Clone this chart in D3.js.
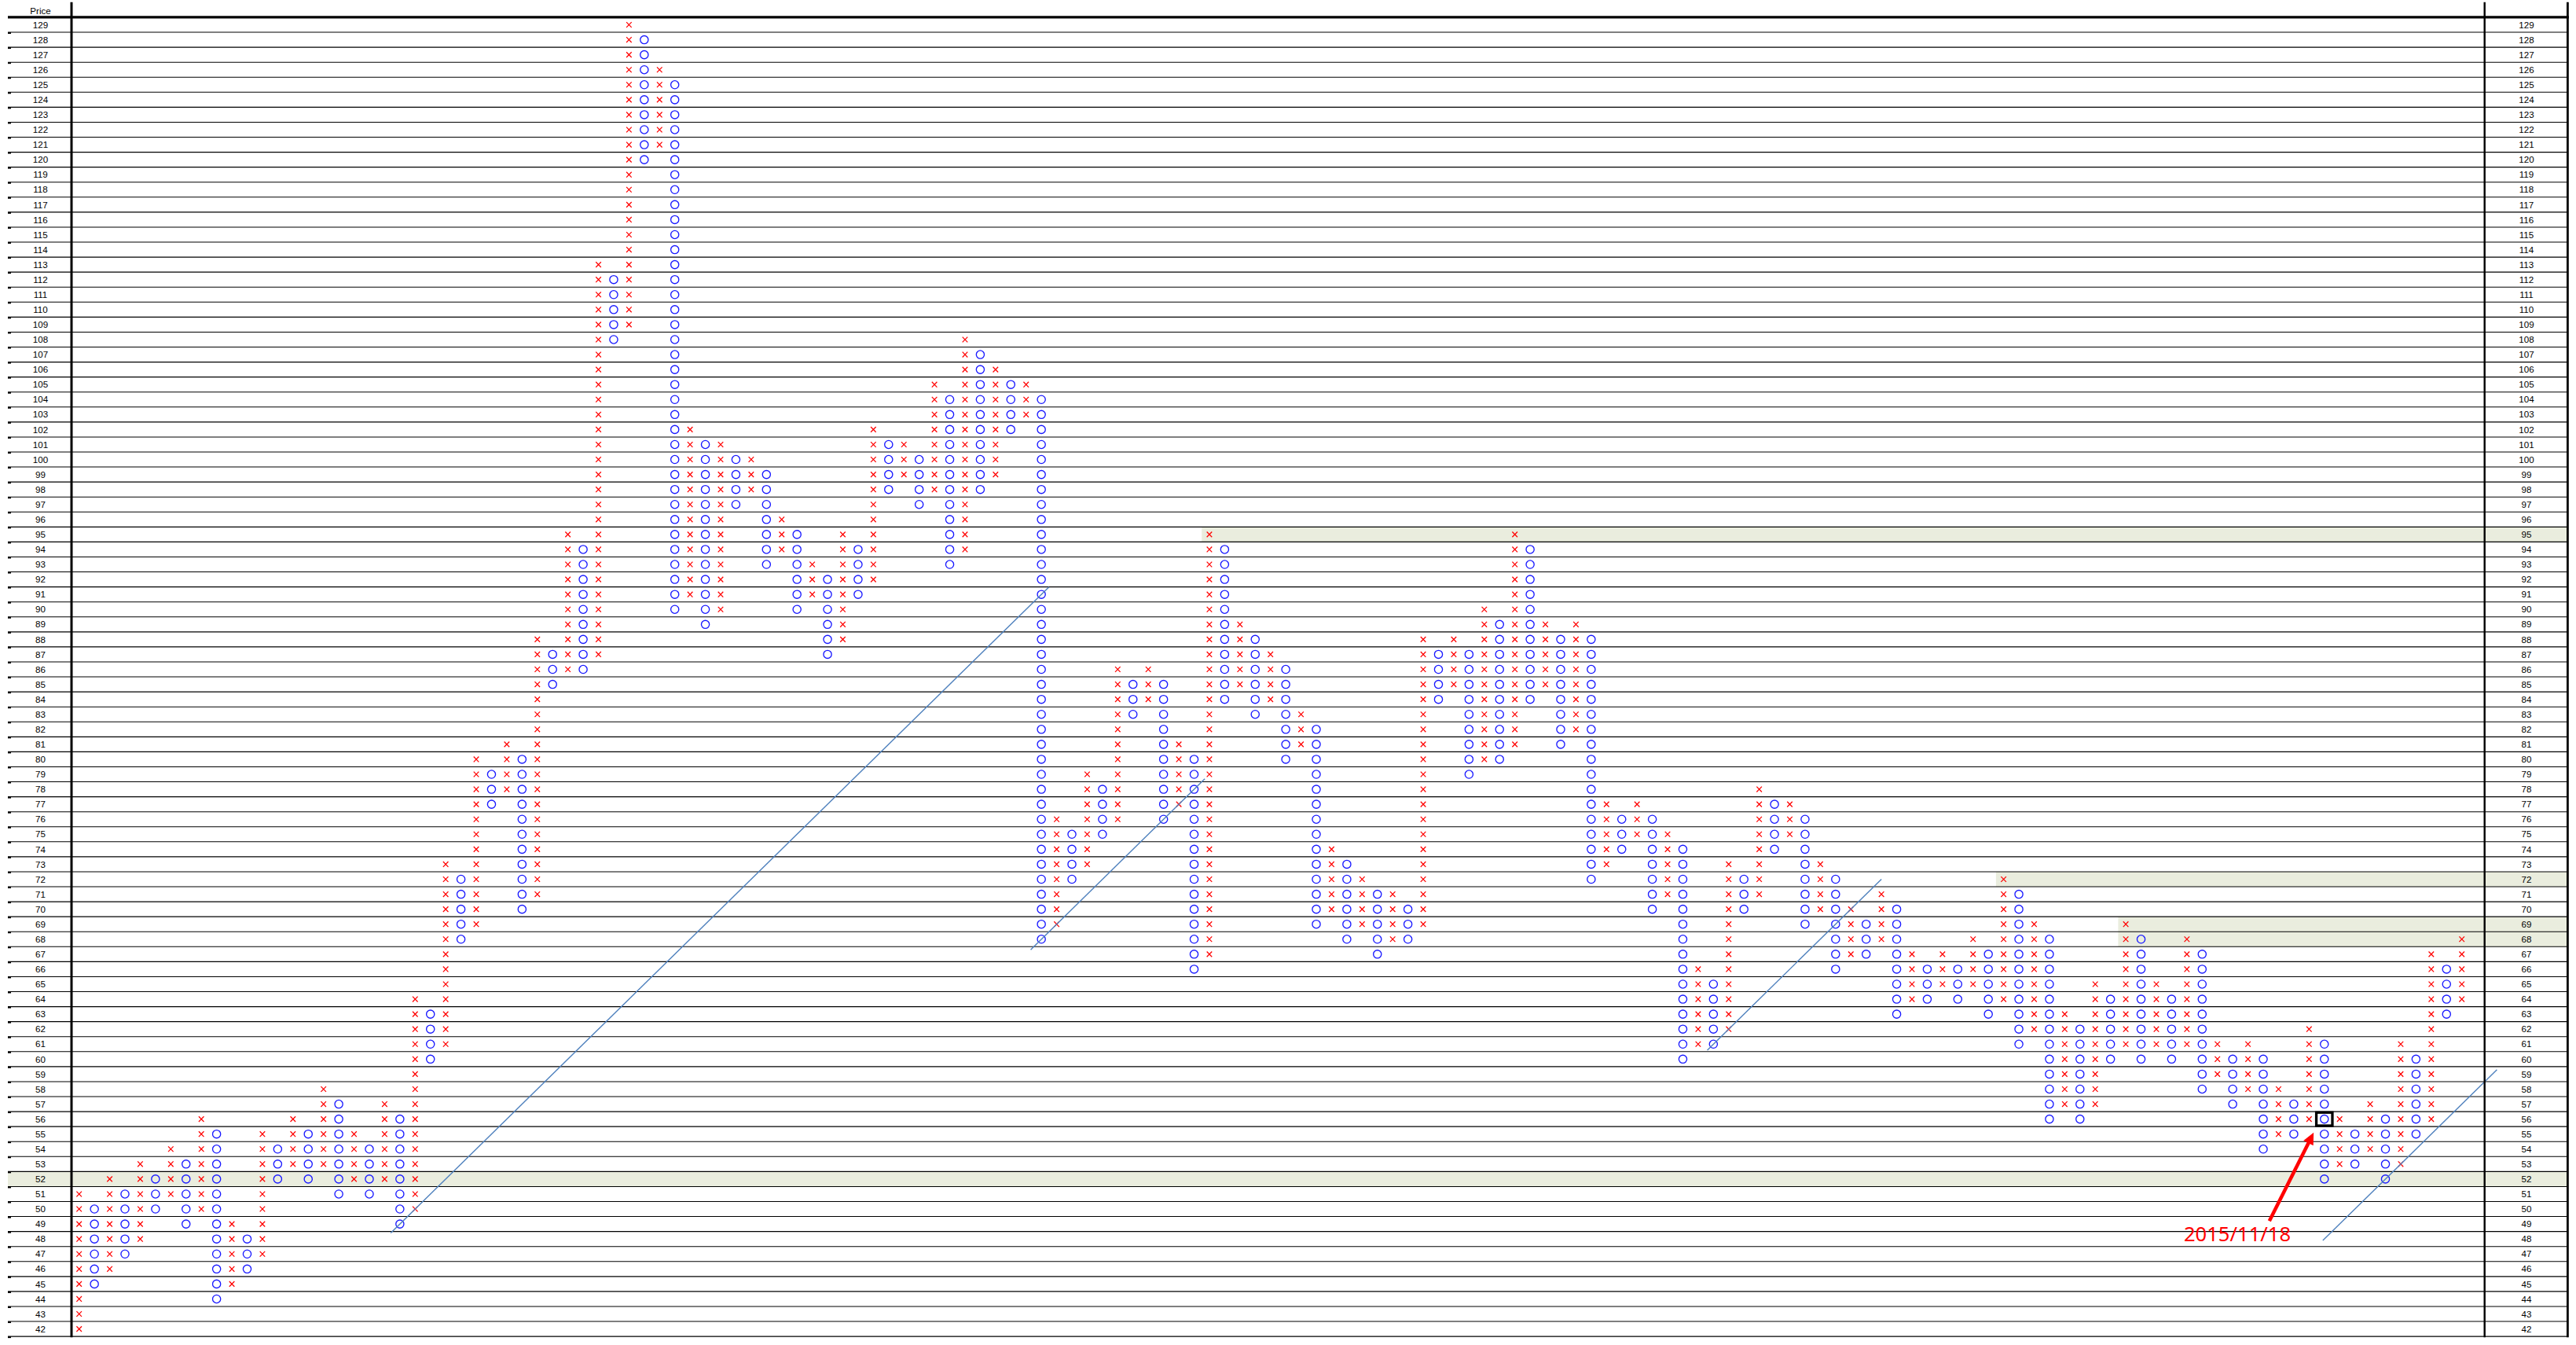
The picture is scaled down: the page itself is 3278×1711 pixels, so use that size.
<!DOCTYPE html>
<html><head><meta charset="utf-8">
<script src="https://cdn.jsdelivr.net/npm/d3@7"></script>
<style>html,body{margin:0;padding:0;background:#fff;} svg{display:block;}</style>
</head><body><svg id="c" width="3278" height="1711"></svg>
<script>
// ---------------- data ----------------
const priceMin = 42, priceMax = 129;
const axisTitle = "Price";
// column type (X = rising, O = falling), lowest box and highest box of each column
const colType = ("XOXOXOXOXO".repeat(15) + "XOXOXOX").split("");
const colLow = [42,45,46,47,48,50,51,49,50,44, 45,46,47,52,53,52,53,51,52,51,
  52,49,50,60,61,68,69,77,78,70, 71,85,86,86,87,108,109,120,121,90,
  91,89,90,97,98,93,94,90,91,87, 88,91,92,98,99,97,98,93,94,98,
  99,102,103,68,69,72,73,75,76,83, 84,76,77,66,67,84,85,83,84,80,
  81,69,70,68,69,67,68,68,69,84, 85,79,80,80,81,84,85,81,82,72,
  73,74,75,70,71,60,61,61,62,70, 71,74,75,69,70,66,67,67,68,63,
  64,64,65,64,65,63,64,61,62,56, 57,56,57,60,61,60,61,60,61,58,
  59,57,58,54,55,55,56,52,53,53, 54,52,53,55,56,63,64];
const colHigh = [51,50,52,51,53,52,54,53,56,55, 49,48,55,54,56,55,58,57,55,54,
  57,56,64,63,73,72,80,79,81,80, 88,87,95,94,113,112,129,128,126,125,
  102,101,101,100,100,99,96,95,93,92, 95,94,102,101,101,100,105,104,108,107,
  106,105,105,104,76,75,79,78,86,85, 86,85,81,80,95,94,89,88,87,86,
  83,82,74,73,72,71,71,70,88,87, 88,87,90,89,95,94,89,88,89,88,
  77,76,77,76,75,74,66,65,73,72, 78,77,77,76,73,72,70,69,71,70,
  67,66,67,66,68,67,72,71,69,68, 63,62,65,64,69,68,65,64,68,67,
  61,60,61,60,58,57,62,61,56,55, 57,56,61,60,67,66,68];
// highlighted price rows and the column where each starts (null = whole width)
const bandPrices = [95, 72, 69, 68, 52];
const bandStartCols = [74, 126, 134, 134, null];
// 45-degree trend lines (column, price)
const trendFromCol = [20.4, 62.3, 106.6, 146.9];
const trendFromPrice = [48.4, 67.3, 60.6, 47.9];
const trendToCol = [63.5, 73.7, 118.0, 158.3];
const trendToPrice = [91.5, 78.7, 72.0, 59.3];
// marked box + annotation
const markCol = 147, markPrice = 56;
const annotationText = "2015/11/18";
const annotationAt = [141.3, 47.85];
const arrowFrom = [143.4, 49.2], arrowTo = [146.3, 55.1];

// ---------------- layout ----------------
const nCols = colLow.length;
const x = d3.scaleLinear().domain([0, nCols - 1]).range([100.7, 3132.7]);
const y = d3.scaleLinear().domain([priceMax, priceMin]).range([31.5, 1690.6]);
const rowH = 19.07, colW = (x(1) - x(0));
const leftEdge = 10, leftAxisX = 91, rightAxisX = 3161.7, rightEdge = 3267.4;
const topY = y(priceMax) - rowH / 2, bottomY = y(priceMin) + rowH / 2;
const prices = d3.range(priceMin, priceMax + 1);
const labelFont = "11.6px 'Liberation Sans', Arial, sans-serif";

const svg = d3.select("#c");

// bands
svg.append("g").selectAll("rect")
  .data(bandPrices.map((p, i) => ({ p, s: bandStartCols[i] })))
  .join("rect")
  .attr("x", d => d.s === null ? leftEdge : x(d.s) - colW / 2)
  .attr("y", d => y(d.p) - rowH / 2)
  .attr("width", d => rightEdge - (d.s === null ? leftEdge : x(d.s) - colW / 2))
  .attr("height", rowH)
  .attr("fill", "#eaedde");

// row lines
const lineYs = prices.map(p => y(p) + rowH / 2);
svg.append("g").selectAll("line").data(lineYs).join("line")
  .attr("x1", leftEdge).attr("x2", rightEdge)
  .attr("y1", d => d).attr("y2", d => d)
  .attr("stroke", "#000").attr("stroke-width", 1.1);
svg.append("g").selectAll("line").data(lineYs).join("line")
  .attr("x1", leftEdge).attr("x2", leftEdge + 4)
  .attr("y1", d => d + 1).attr("y2", d => d + 1)
  .attr("stroke", "#000").attr("stroke-width", 2);
svg.append("line").attr("x1", leftEdge).attr("x2", rightEdge + 1.5)
  .attr("y1", topY).attr("y2", topY).attr("stroke", "#000").attr("stroke-width", 3.2);

// price labels
[[51.5, "left"], [3215, "right"]].forEach(([lx]) => {
  svg.append("g").selectAll("text").data(prices).join("text")
    .attr("x", lx).attr("y", d => y(d)).attr("dy", "0.36em")
    .attr("text-anchor", "middle").style("font", labelFont).attr("fill", "#000")
    .text(d => d);
});
svg.append("text").attr("x", 51.5).attr("y", 14).attr("dy", "0.36em")
  .attr("text-anchor", "middle").style("font", labelFont).text(axisTitle);

// boxes
const boxes = [];
colType.forEach((t, i) => { for (let p = colLow[i]; p <= colHigh[i]; p++) boxes.push({ i, p, t }); });
const gm = svg.append("g");
gm.selectAll("path").data(boxes.filter(b => b.t === "X")).join("path")
  .attr("transform", d => `translate(${x(d.i)},${y(d.p)})`)
  .attr("d", "M-3.3,-3.4L3.3,3.4M-3.3,3.4L3.3,-3.4")
  .attr("stroke", "#ff0000").attr("stroke-width", 1.25).attr("fill", "none");
gm.selectAll("circle").data(boxes.filter(b => b.t === "O")).join("circle")
  .attr("cx", d => x(d.i)).attr("cy", d => y(d.p)).attr("r", 5.1)
  .attr("stroke", "#1a1aff").attr("stroke-width", 1.35).attr("fill", "none");

// trend lines
svg.append("g").selectAll("line").data(trendFromCol.map((c, i) => i)).join("line")
  .attr("x1", i => x(trendFromCol[i])).attr("y1", i => y(trendFromPrice[i]))
  .attr("x2", i => x(trendToCol[i])).attr("y2", i => y(trendToPrice[i]))
  .attr("stroke", "#4f81bd").attr("stroke-width", 1.4);

// marked box
svg.append("rect")
  .attr("x", x(markCol) - 10.2).attr("y", y(markPrice) - 8.4)
  .attr("width", 20.4).attr("height", 16.8)
  .attr("fill", "none").attr("stroke", "#000").attr("stroke-width", 3.3);

// annotation arrow + text
const ax1 = x(arrowFrom[0]), ay1 = y(arrowFrom[1]), ax2 = x(arrowTo[0]), ay2 = y(arrowTo[1]);
const len = Math.hypot(ax2 - ax1, ay2 - ay1), ux = (ax2 - ax1) / len, uy = (ay2 - ay1) / len;
const headL = 15, headW = 7;
const bx = ax2 - ux * headL, by = ay2 - uy * headL;
svg.append("line").attr("x1", ax1).attr("y1", ay1).attr("x2", bx + ux * 2).attr("y2", by + uy * 2)
  .attr("stroke", "#ff0000").attr("stroke-width", 4.5);
svg.append("path")
  .attr("d", `M${ax2},${ay2}L${bx - uy * headW},${by + ux * headW}L${bx + uy * headW},${by - ux * headW}Z`)
  .attr("fill", "#ff0000");
svg.append("text").attr("x", x(annotationAt[0])).attr("y", y(annotationAt[1]))
  .attr("text-anchor", "middle").attr("fill", "#ff0000")
  .style("font", "25.6px 'Noto Sans', 'Liberation Sans', sans-serif").text(annotationText);

// vertical frame lines
[[leftAxisX, 3], [rightAxisX, 2.4], [rightEdge, 2.8]].forEach(([vx, w]) => {
  svg.append("line").attr("x1", vx).attr("x2", vx).attr("y1", 2.7).attr("y2", bottomY + 1)
    .attr("stroke", "#000").attr("stroke-width", w);
});
</script></body></html>
